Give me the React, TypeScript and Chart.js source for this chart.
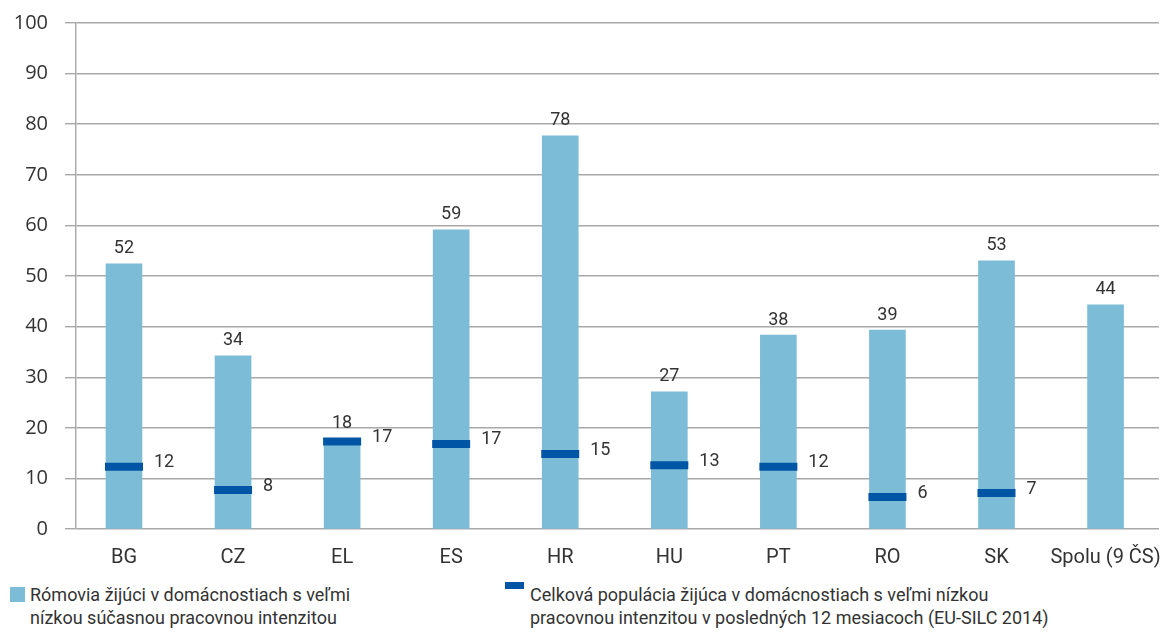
import React, { useEffect, useRef } from "react";
import { Chart, registerables } from "chart.js";

Chart.register(...registerables);

const categories = ["BG", "CZ", "EL", "ES", "HR", "HU", "PT", "RO", "SK", "Spolu (9 ČS)"];
const romaValues = [52.4, 34.2, 17.8, 59.1, 77.7, 27.1, 38.3, 39.3, 53.0, 44.3];
const romaLabels = ["52", "34", "18", "59", "78", "27", "38", "39", "53", "44"];
const totalValues = [12.3, 7.7, 17.3, 16.8, 14.8, 12.6, 12.3, 6.3, 7.1, null];
const totalLabels = ["12", "8", "17", "17", "15", "13", "12", "6", "7", ""];
const legendRoma = ["Rómovia žijúci v domácnostiach s veľmi", "nízkou súčasnou pracovnou intenzitou"];
const legendTotal = [
  "Celková populácia žijúca v domácnostiach s veľmi nízkou",
  "pracovnou intenzitou v posledných 12 mesiacoch (EU-SILC 2014)",
];

const BAR_COLOR = "#7cbcd6";
const MARK_COLOR = "#0055a5";
const GRID_COLOR = "#a8a8a8";
const TEXT_COLOR = "#333333";
const FONT = "Roboto, 'Noto Sans', sans-serif";

const labelPlugin = {
  id: "valueLabels",
  afterDatasetsDraw(chart: any) {
    const ctx = chart.ctx;
    ctx.save();
    ctx.fillStyle = TEXT_COLOR;
    ctx.font = "18px " + FONT;
    const m0 = chart.getDatasetMeta(0);
    m0.data.forEach((el: any, i: number) => {
      ctx.textAlign = "center";
      ctx.textBaseline = "bottom";
      ctx.fillText(romaLabels[i], el.x, el.y - 6);
    });
    const m1 = chart.getDatasetMeta(1);
    m1.data.forEach((el: any, i: number) => {
      if (totalValues[i] == null) return;
      ctx.textAlign = "left";
      ctx.textBaseline = "middle";
      ctx.fillText(totalLabels[i], el.x + 30, el.y - 4);
    });
    ctx.restore();
  },
};

export default function App() {
  const ref = useRef<HTMLCanvasElement>(null);
  useEffect(() => {
    if (!ref.current) return;
    const chart = new Chart(ref.current, {
      type: "bar",
      data: {
        datasets: [
          {
            type: "bar",
            label: legendRoma.join(" "),
            data: romaValues.map((v, i) => ({ x: i, y: v })),
            backgroundColor: BAR_COLOR,
            barThickness: 36,
            order: 2,
          },
          {
            type: "line",
            label: legendTotal.join(" "),
            data: totalValues.map((v, i) => ({ x: i, y: v })) as any,
            showLine: false,
            pointStyle: "line",
            pointRadius: 19,
            pointHoverRadius: 19,
            pointBorderWidth: 8,
            borderColor: MARK_COLOR,
            backgroundColor: MARK_COLOR,
            order: 1,
          },
        ],
      },
      options: {
        animation: false,
        responsive: true,
        maintainAspectRatio: false,
        layout: { autoPadding: false, padding: { top: 23, right: 10, left: 0, bottom: 0 } },
        plugins: { legend: { display: false }, tooltip: { enabled: false } },
        scales: {
          x: {
            type: "linear",
            offset: false,
            min: -0.44,
            max: 9.49,
            grid: { display: false, offset: false },
            border: { display: false },
            afterBuildTicks: (scale: any) => {
              scale.ticks = categories.map((_, i) => ({ value: i }));
            },
            afterFit: (scale: any) => {
              scale.height = 46;
              scale.paddingLeft = 0;
              scale.paddingRight = 0;
            },
            ticks: {
              autoSkip: false,
              maxRotation: 0,
              padding: 9,
              color: TEXT_COLOR,
              font: { family: FONT, size: 20 },
              callback: (v: any) => categories[v as number],
            },
          },
          y: {
            min: 0,
            max: 100,
            grid: { color: GRID_COLOR, lineWidth: 1.4, tickLength: 11 },
            border: { display: true, color: GRID_COLOR, width: 1.4 },
            afterFit: (scale: any) => {
              scale.width = 76;
              scale.paddingTop = 0;
              scale.paddingBottom = 0;
            },
            ticks: {
              stepSize: 10,
              padding: 17,
              color: TEXT_COLOR,
              font: { family: "'Open Sans', sans-serif", size: 20 },
            },
          },
        },
      },
      plugins: [labelPlugin],
    });
    return () => chart.destroy();
  }, []);

  const textStyle: React.CSSProperties = {
    position: "absolute",
    fontFamily: FONT,
    fontSize: 18,
    lineHeight: "23px",
    color: TEXT_COLOR,
    whiteSpace: "nowrap",
  };

  return (
    <div style={{ position: "absolute", left: 0, top: 0, width: 1169, height: 634, background: "#fff" }}>
      <div style={{ position: "absolute", left: 0, top: 0, width: 1169, height: 575 }}>
        <canvas ref={ref} />
      </div>
      <div style={{ position: "absolute", left: 10, top: 587, width: 15, height: 15, background: BAR_COLOR }} />
      <div style={{ ...textStyle, left: 30, top: 583 }}>
        {legendRoma.map((t) => (
          <div key={t}>{t}</div>
        ))}
      </div>
      <div style={{ position: "absolute", left: 505, top: 582, width: 19, height: 7, background: MARK_COLOR }} />
      <div style={{ ...textStyle, left: 530, top: 583 }}>
        {legendTotal.map((t) => (
          <div key={t}>{t}</div>
        ))}
      </div>
    </div>
  );
}
